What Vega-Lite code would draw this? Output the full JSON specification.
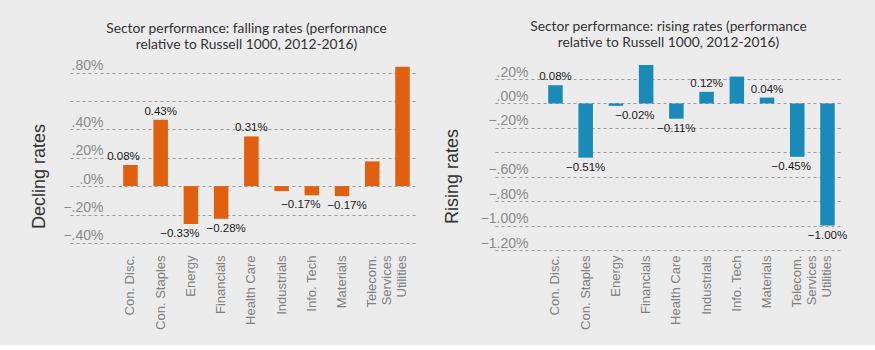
{
  "$schema": "https://vega.github.io/schema/vega-lite/v6.json",
  "background": "#ececec",
  "padding": {"left": 30, "top": 20, "right": 36, "bottom": 15},
  "spacing": 26,
  "config": {
    "view": {"stroke": null},
    "font": "Liberation Sans",
    "title": {"font": "Lato", "fontSize": 13.8, "fontWeight": "normal", "color": "#333333", "lineHeight": 16, "offset": 1},
    "axisX": {"labelAngle": -90, "labelColor": "#808080", "labelFontSize": 13, "labelPadding": 5, "ticks": false, "domain": false, "grid": false, "title": null},
    "axisY": {"grid": true, "gridDash": [3, 3], "gridColor": "#9a9a9a", "gridWidth": 1, "domain": false, "ticks": false, "labelAlign": "right", "labelPadding": -33, "labelBaseline": "alphabetic", "labelOffset": -3, "labelFontSize": 14, "labelColor": "#8a8a8a", "labelOverlap": false, "labelFlush": false, "titleFontSize": 18, "titleColor": "#333333", "titleFontWeight": "normal", "titleBaseline": "bottom", "titleAlign": "center", "titleY": 112},
    "text": {"fontSize": 11.5, "color": "#1a1a1a"}
  },
  "datasets": {
    "falling": [
      {"sector": "Con. Disc.", "value": 0.148, "label": "0.08%"},
      {"sector": "Con. Staples", "value": 0.467, "label": "0.43%"},
      {"sector": "Energy", "value": -0.267, "label": "−0.33%"},
      {"sector": "Financials", "value": -0.23, "label": "−0.28%"},
      {"sector": "Health Care", "value": 0.35, "label": "0.31%"},
      {"sector": "Industrials", "value": -0.035, "label": ""},
      {"sector": "Info. Tech", "value": -0.065, "label": "−0.17%"},
      {"sector": "Materials", "value": -0.07, "label": "−0.17%"},
      {"sector": "Telecom. Services", "value": 0.174, "label": ""},
      {"sector": "Utilities", "value": 0.84, "label": ""}
    ],
    "rising": [
      {"sector": "Con. Disc.", "value": 0.15, "label": "0.08%"},
      {"sector": "Con. Staples", "value": -0.444, "label": "−0.51%"},
      {"sector": "Energy", "value": -0.02, "label": "−0.02%"},
      {"sector": "Financials", "value": 0.315, "label": ""},
      {"sector": "Health Care", "value": -0.125, "label": "−0.11%"},
      {"sector": "Industrials", "value": 0.095, "label": "0.12%"},
      {"sector": "Info. Tech", "value": 0.22, "label": ""},
      {"sector": "Materials", "value": 0.048, "label": "0.04%"},
      {"sector": "Telecom. Services", "value": -0.437, "label": "−0.45%"},
      {"sector": "Utilities", "value": -1.0, "label": "−1.00%"}
    ]
  },
  "hconcat": [
    {
      "width": 347,
      "height": 186,
      "data": {"name": "falling"},
      "title": {"text": ["Sector performance: falling rates (performance", "relative to Russell 1000, 2012-2016)"], "dx": 3},
      "encoding": {
        "x": {"field": "sector", "type": "nominal", "sort": null,
          "scale": {"paddingInner": 0.52, "paddingOuter": 1.13, "align": 0.88},
          "axis": {"labelExpr": "datum.label == 'Telecom. Services' ? ['Telecom.', 'Services'] : datum.label"}},
        "y": {"field": "value", "type": "quantitative",
          "scale": {"domain": [-0.45, 0.86], "nice": false, "zero": false},
          "axis": {"title": "Decling rates", "titleX": -22, "values": [-0.4, -0.2, 0, 0.2, 0.4, 0.6, 0.8],
            "labelExpr": "datum.value == 0.6 ? '' : datum.value == 0 ? '.0%' : (datum.value < 0 ? '−' : '') + replace(format(abs(datum.value), '.2f'), '0.', '.') + '%'"}}
      },
      "layer": [
        {"mark": {"type": "bar", "color": "#e0600f"}},
        {"transform": [{"filter": "datum.value >= 0 && datum.sector != 'Con. Disc.'"}],
          "mark": {"type": "text", "baseline": "bottom", "dy": -3},
          "encoding": {"text": {"field": "label"}}},
        {"transform": [{"filter": "datum.sector == 'Con. Disc.'"}],
          "mark": {"type": "text", "baseline": "bottom", "dy": -3, "dx": -7},
          "encoding": {"text": {"field": "label"}}},
        {"transform": [{"filter": "datum.sector == 'Energy' || datum.sector == 'Info. Tech'"}],
          "mark": {"type": "text", "baseline": "top", "dy": 4, "dx": -11},
          "encoding": {"text": {"field": "label"}}},
        {"transform": [{"filter": "datum.sector == 'Financials' || datum.sector == 'Materials'"}],
          "mark": {"type": "text", "baseline": "top", "dy": 4, "dx": 5},
          "encoding": {"text": {"field": "label"}}}
      ]
    },
    {
      "width": 347,
      "height": 186,
      "data": {"name": "rising"},
      "title": {"text": ["Sector performance: rising rates (performance", "relative to Russell 1000, 2012-2016)"]},
      "encoding": {
        "x": {"field": "sector", "type": "nominal", "sort": null,
          "scale": {"paddingInner": 0.52, "paddingOuter": 1.13, "align": 0.88},
          "axis": {"labelExpr": "datum.label == 'Telecom. Services' ? ['Telecom.', 'Services'] : datum.label"}},
        "y": {"field": "value", "type": "quantitative",
          "scale": {"domain": [-1.2, 0.323], "nice": false, "zero": false},
          "axis": {"title": "Rising rates", "titleX": -34, "values": [-1.2, -1, -0.8, -0.6, -0.4, -0.2, 0, 0.2],
            "labelExpr": "datum.value == -0.4 ? '' : (datum.value < 0 ? '−' : '') + replace(format(abs(datum.value), '.2f'), '0.', '.') + '%'"}}
      },
      "layer": [
        {"mark": {"type": "bar", "color": "#1a8ab8"}},
        {"transform": [{"filter": "datum.value >= 0"}],
          "mark": {"type": "text", "baseline": "bottom", "dy": -3},
          "encoding": {"text": {"field": "label"}}},
        {"transform": [{"filter": "datum.value < 0 && datum.sector != 'Energy' && datum.sector != 'Telecom. Services'"}],
          "mark": {"type": "text", "baseline": "top", "dy": 4},
          "encoding": {"text": {"field": "label"}}},
        {"transform": [{"filter": "datum.sector == 'Energy'"}],
          "mark": {"type": "text", "baseline": "top", "dy": 4, "dx": 19},
          "encoding": {"text": {"field": "label"}}},
        {"transform": [{"filter": "datum.sector == 'Telecom. Services'"}],
          "mark": {"type": "text", "baseline": "top", "dy": 4, "dx": -6},
          "encoding": {"text": {"field": "label"}}}
      ]
    }
  ]
}
